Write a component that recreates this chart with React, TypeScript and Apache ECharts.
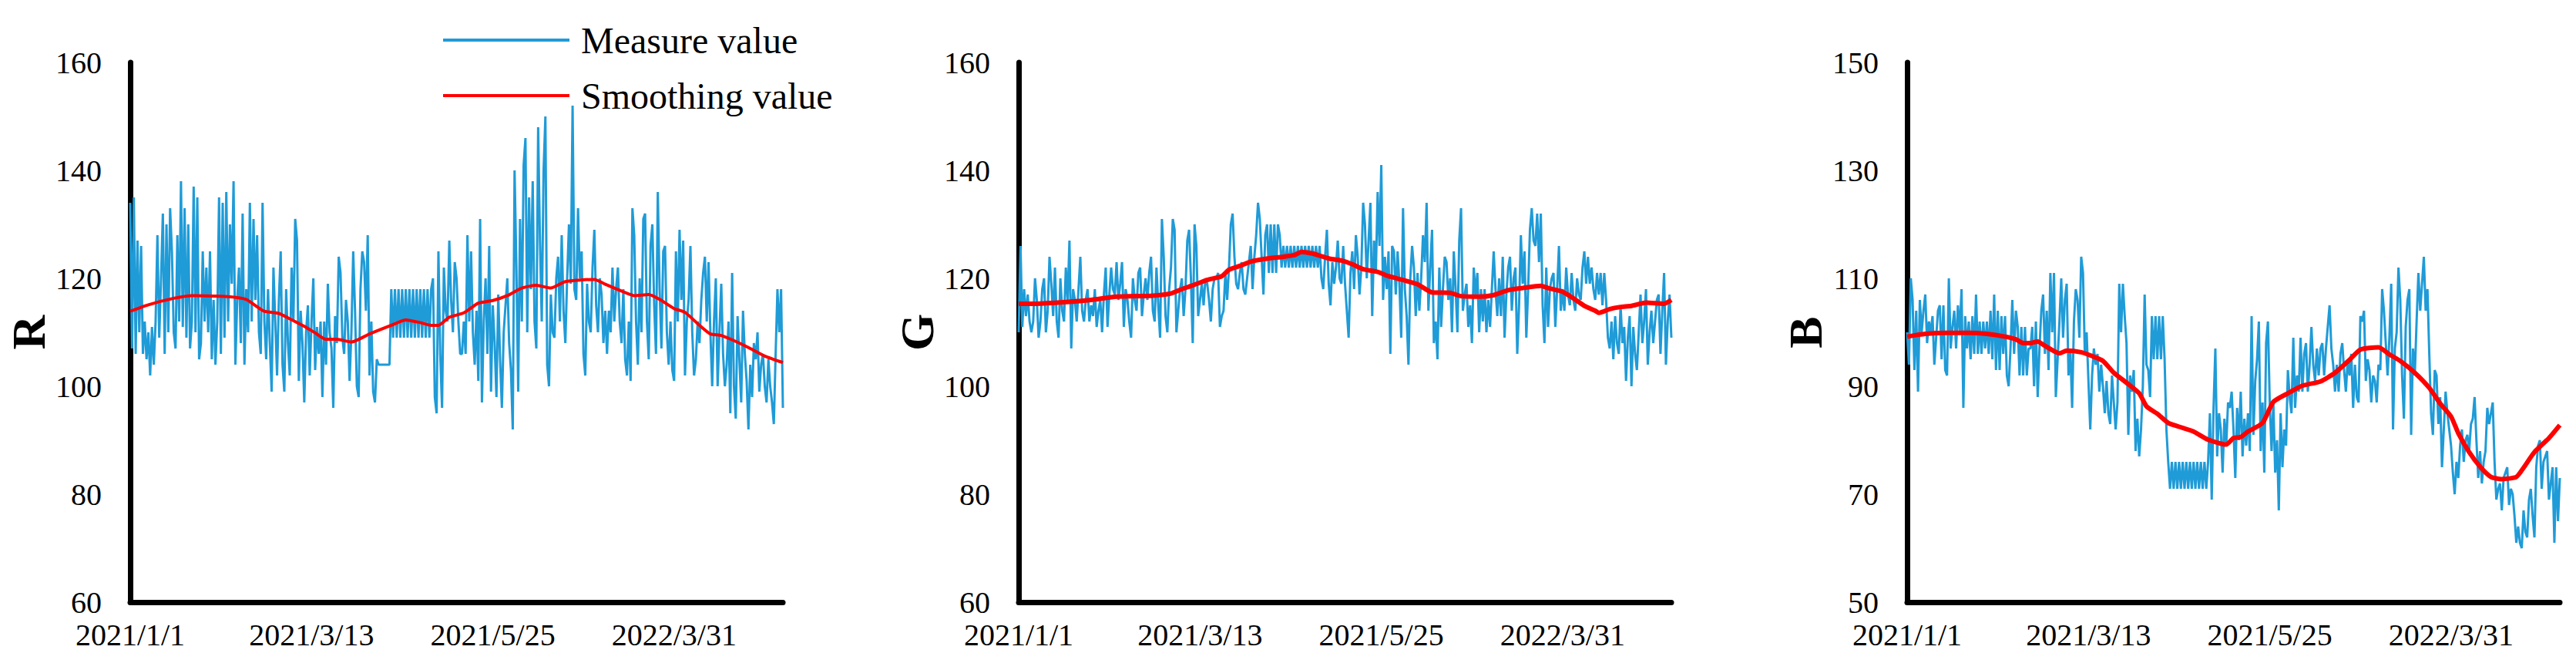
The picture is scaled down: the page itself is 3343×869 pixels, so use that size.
import React, { useEffect, useRef } from 'react';
import * as echarts from 'echarts';

// x positions: sample units 0..180, date labels every 50 units; measures sampled every 0.5 unit
const X_LABELS = ['2021/1/1', '2021/3/13', '2021/5/25', '2022/3/31'];
const X_STEP = 50;
const X_MAX = 180;

const SERIES_NAMES = ['Measure value', 'Smoothing value'];

const R_MEASURE = [
  134, 107, 135, 106, 127, 110, 126, 106, 112, 105,
  110, 102, 111, 104, 112, 128, 109, 120, 132, 106,
  130, 110, 133, 125, 110, 107, 128, 112, 138, 111,
  133, 109, 130, 107, 112, 137, 110, 135, 105, 108,
  125, 112, 122, 110, 125, 105, 116, 104, 112, 135,
  106, 134, 109, 136, 112, 130, 119, 138, 104, 116,
  122, 108, 132, 104, 118, 110, 134, 112, 131, 116,
  128, 110, 106, 134, 112, 105, 118, 108, 99, 122,
  112, 102, 116, 125, 104, 99, 118, 108, 102, 122,
  112, 131, 127, 101, 114, 108, 97, 110, 115, 102,
  112, 120, 103, 111, 106, 112, 98, 112, 104, 119,
  110, 107, 96, 113, 108, 124, 121, 109, 106, 116,
  112, 101, 110, 125, 114, 100, 98, 118, 125, 123,
  114, 128, 102, 112, 99, 97, 105, 104, 104, 104,
  104, 104, 104, 104,
  118, 109, 118, 109, 118, 109, 118, 109, 118, 109, 118, 109,
  118, 109, 118, 109, 118, 109, 118, 109, 118, 109, 118,
  120, 98, 95, 125, 106, 96, 122, 114, 112, 127, 116, 110, 123, 120, 112, 106,
  106, 112, 106, 128, 112, 125, 110,
  104, 114, 101, 131, 97, 112, 120, 106, 126, 99,
  115, 108, 98, 117, 105, 96, 110, 115, 120, 108,
  103, 92, 140, 122, 99, 131, 112, 141, 146, 110,
  135, 118, 138, 112, 107, 148, 127, 112, 140, 150,
  104, 100, 117, 110, 109, 120, 124, 112, 128, 114,
  108, 120, 130, 119, 152, 118, 116, 133, 120, 125,
  106, 102, 119, 112, 110, 122, 129, 115, 110, 120,
  117, 108, 114, 106, 114, 110, 122, 112, 118, 122,
  112, 108, 118, 105, 102, 112, 101, 133, 128, 112,
  104, 120, 110, 131, 132, 112, 105, 126, 130, 115,
  106, 136, 118, 107, 125, 126, 110, 104, 112, 103,
  101, 125, 112, 129, 116, 127, 102, 112, 116, 126,
  110, 102, 105, 112, 108, 116, 121, 124, 112, 123,
  110, 100, 112, 120, 100, 110, 119, 106, 100, 104,
  112, 95, 121, 100, 94, 113, 105, 97, 114, 106,
  101, 92, 104, 98, 108, 105, 110, 99, 104, 106,
  100, 97, 105, 100, 97, 93, 106, 118, 110, 118,
  96,
];

const R_SMOOTH = [
  [0, 113.9], [5, 115.1], [12, 116.3], [17, 116.8], [27, 116.6], [32, 116.1],
  [34, 115.2], [37, 113.9], [41, 113.5], [44, 112.5], [48, 111.1], [51, 109.9],
  [54, 108.7], [57, 108.7], [61, 108.2], [66, 109.7], [72, 111.3], [76, 112.3],
  [80, 111.8], [83, 111.3], [85, 111.3], [88, 112.8], [92, 113.6], [96, 115.4],
  [100, 115.9], [104, 116.8], [108, 118.2], [112, 118.7], [116, 118.2], [120, 119.4],
  [128, 119.8], [131, 118.9], [136, 117.5], [139, 116.8], [143, 117], [146, 116.1],
  [150, 114.4], [153, 113.7], [157, 111.3], [160, 109.7], [163, 109.4], [168, 108],
  [171, 107], [175, 105.6], [180, 104.4],
];

const G_MEASURE = [
  110, 126, 111, 118, 113, 117, 112, 110, 112, 120,
  116, 109, 112, 118, 120, 110, 114, 124, 119, 113,
  122, 112, 109, 120, 114, 112, 122, 116, 127, 107,
  118, 116, 112, 118, 124, 114, 112, 116, 118, 112,
  115, 113, 118, 111, 114, 116, 110, 117, 122, 111,
  117, 122, 118, 117, 123, 116, 119, 123, 111, 118,
  116, 112, 109, 120, 116, 114, 121, 122, 113, 117,
  120, 116, 121, 124, 114, 112, 122, 115, 109, 131,
  124, 113, 110, 118, 122, 131, 129, 110, 114, 118,
  120, 113, 118, 127, 129, 120, 108, 130, 126, 113,
  116, 119, 115, 120, 119, 116, 112, 118, 120, 120,
  121, 111, 113, 114, 121, 116, 122, 130, 132, 124,
  119, 118, 121, 123, 118, 117, 120, 123, 126, 118,
  124, 128, 134, 131, 124, 117, 128, 130, 121, 130,
  121, 130, 121, 130, 128,
  122, 126, 122, 126, 122, 126, 122, 126, 122, 126, 122,
  126, 122, 126, 122, 126, 122, 126, 122, 126, 122, 126,
  120, 118, 124, 129, 119, 115, 123, 119, 122, 127, 120, 119, 126, 119, 114, 109,
  121, 125, 118, 128, 124, 117, 122,
  134, 130, 120, 127, 134, 113, 127, 121, 136, 126,
  141, 116, 124, 118, 125, 106, 126, 125, 117, 125,
  119, 109, 133, 118, 113, 104, 120, 126, 122, 113,
  121, 114, 120, 128, 123, 134, 114, 122, 129, 108,
  112, 105, 122, 111, 118, 124, 123, 116, 120, 110,
  125, 118, 110, 127, 133, 114, 117, 119, 111, 115,
  108, 122, 117, 121, 110, 118, 112, 118, 110, 116,
  111, 118, 125, 118, 113, 120, 113, 124, 109, 117,
  122, 124, 114, 120, 122, 106, 115, 128, 119, 125,
  109, 118, 129, 133, 127, 126, 132, 123, 132, 115,
  108, 122, 111, 118, 120, 121, 111, 118, 126, 114,
  118, 114, 122, 117, 115, 121, 116, 114, 120, 117,
  116, 122, 125, 119, 124, 119, 122, 118, 116, 121,
  117, 121, 115, 121, 116, 109, 107, 112, 105, 113,
  108, 106, 115, 108, 111, 101, 109, 113, 100, 111,
  106, 103, 110, 117, 108, 112, 118, 104, 110, 114,
  108, 112, 116, 117, 106, 114, 121, 104, 112, 117,
  109,
];

const G_SMOOTH = [
  [0, 115.3], [5, 115.3], [13, 115.6], [20, 116], [27, 116.6], [37, 116.8],
  [42, 117.2], [45, 118], [48, 118.7], [52, 119.7], [56, 120.4], [58, 121.6],
  [61, 122.3], [64, 123.1], [68, 123.6], [73, 124], [76, 124.3], [78, 124.9],
  [81, 124.6], [83, 124.2], [86, 123.6], [89, 123.3], [92, 122.6], [95, 121.7],
  [99, 121.2], [102, 120.4], [106, 119.7], [110, 118.9], [114, 117.4], [119, 117.3],
  [122, 116.7], [127, 116.6], [131, 116.9], [135, 117.8], [139, 118.2], [144, 118.6],
  [146, 118.2], [150, 117.5], [153, 116.3], [156, 114.9], [159, 114], [160, 113.6],
  [163, 114.3], [166, 114.7], [169, 114.9], [173, 115.5], [178, 115.3], [180, 116],
];

const B_MEASURE = [
  100, 94, 110, 106, 93, 104, 89, 106, 100, 104,
  107, 98, 102, 100, 103, 94, 99, 104, 105, 95,
  105, 93, 92, 110, 97, 101, 104, 97, 105, 100,
  108, 86, 103, 97, 102, 95, 103, 96, 107, 96,
  102, 96, 102, 97, 102, 96, 104, 95, 107, 93,
  104, 93, 103, 96, 103, 92, 90, 97, 106, 96,
  104, 101, 92, 101, 92, 101, 92, 97, 97, 101,
  90, 102, 88, 97, 104, 107, 96, 104, 93, 111,
  100, 111, 88, 95, 102, 110, 99, 106, 109, 92,
  97, 86, 102, 108, 106, 99, 114, 111, 96, 100,
  91, 82, 92, 97, 94, 96, 89, 94, 90, 85,
  91, 85, 83, 92, 87, 82, 87, 109, 100, 109,
  103, 98, 81, 92, 89, 93, 78, 84, 77, 82,
  90, 107, 94, 93, 88, 103, 95, 103, 95, 103,
  95, 103, 95, 82,
  76, 71, 76, 71, 76, 71, 76, 71, 76, 71, 76, 71,
  76, 71, 76, 71, 76, 71, 76, 71, 76, 71, 76,
  85, 69, 86, 97, 77, 85, 82, 74, 84, 79, 87, 86, 89, 82, 73, 86,
  80, 89, 77, 84, 79, 85, 78,
  103, 81, 91, 95, 102, 78, 87, 74, 98, 102,
  87, 78, 87, 74, 80, 67, 85, 75, 82, 79,
  93, 88, 85, 99, 86, 92, 89, 99, 89, 96,
  98, 89, 94, 101, 94, 91, 97, 92, 97, 98,
  92, 97, 101, 105, 97, 94, 89, 94, 89, 96,
  98, 93, 89, 95, 92, 96, 86, 94, 88, 87,
  103, 102, 104, 91, 95, 93, 87, 92, 91, 87,
  94, 93, 108, 104, 98, 92, 99, 109, 82, 97,
  100, 112, 106, 92, 84, 101, 106, 108, 81, 97,
  92, 102, 111, 104, 109, 114, 104, 108, 96, 85,
  81, 93, 92, 83, 88, 75, 82, 89, 85, 82,
  79, 74, 70, 76, 73, 79, 82, 76, 80, 81,
  78, 83, 84, 88, 80, 73, 78, 72, 76, 78,
  86, 83, 85, 87, 76, 69, 71, 72, 67, 73,
  74, 75, 68, 71, 70, 66, 61, 64, 61, 60,
  67, 63, 62, 69, 71, 66, 62, 75, 79, 80,
  71, 76, 77, 78, 69, 72, 75, 61, 75, 65,
  73,
];

const B_SMOOTH = [
  [0, 99.2], [5, 99.7], [11, 99.9], [17, 99.9], [22, 99.7], [27, 99.2],
  [30, 98.7], [32, 98], [34, 98], [36, 98.3], [38, 97.5], [42, 96.1],
  [44, 96.6], [48, 96.3], [51, 95.6], [54, 94.7], [57, 92.5], [61, 90.4],
  [64, 88.7], [66, 86.3], [69, 84.9], [72, 83.2], [75, 82.5], [79, 81.6],
  [83, 80.1], [88, 79.2], [90, 80.4], [92, 80.6], [94, 81.6], [98, 83.2],
  [101, 87.1], [105, 88.7], [109, 90.1], [114, 90.9], [118, 92.5], [122, 94.9],
  [125, 96.8], [130, 97.2], [133, 95.9], [136, 94.7], [140, 92.5], [144, 89.7],
  [147, 86.8], [150, 84.4], [152, 81.3], [155, 77.8], [158, 75.1], [161, 73.2],
  [164, 72.8], [168, 73.2], [170, 74.9], [173, 77.8], [177, 80.4], [180, 82.8],
];

const FONT = '"Liberation Serif", "Times New Roman", serif';
const BLUE = '#1F9BD7';
const RED = '#FF0000';

export default function App() {
  const ref = useRef<HTMLDivElement>(null);

  useEffect(() => {
    if (!ref.current) return;
    const chart = echarts.init(ref.current, null, { renderer: 'svg' });

    const panels = [
      { name: 'R', measure: R_MEASURE, smooth: R_SMOOTH, min: 60, max: 160, left: 169, smoothWidth: 4 },
      { name: 'G', measure: G_MEASURE, smooth: G_SMOOTH, min: 60, max: 160, left: 1322, smoothWidth: 6 },
      { name: 'B', measure: B_MEASURE, smooth: B_SMOOTH, min: 50, max: 150, left: 2475, smoothWidth: 6 },
    ];

    const option: any = {
      animation: false,
      backgroundColor: '#ffffff',
      legend: {
        left: 570,
        top: 23,
        orient: 'vertical',
        icon: 'rect',
        itemWidth: 164,
        itemHeight: 4,
        itemGap: 24,
        data: SERIES_NAMES,
        textStyle: { fontFamily: FONT, fontSize: 48, color: '#000', padding: [0, 0, 0, 10] },
      },
      grid: panels.map((p) => ({ left: p.left, top: 81, width: 847, height: 700, containLabel: false })),
      xAxis: panels.map((p, k) => ({
        type: 'value',
        gridIndex: k,
        min: 0,
        max: X_MAX,
        interval: X_STEP,
        axisLine: { show: true, onZero: false, lineStyle: { color: '#000', width: 7 } },
        axisTick: { show: false },
        splitLine: { show: false },
        axisLabel: {
          fontFamily: FONT,
          fontSize: 40,
          color: '#000',
          margin: 22,
          showMaxLabel: false,
          formatter: (v: number) => {
            const r = Math.round(v);
            const idx = r / X_STEP;
            return r % X_STEP === 0 && idx < X_LABELS.length ? X_LABELS[idx] : '';
          },
        },
      })),
      yAxis: panels.map((p, k) => ({
        type: 'value',
        gridIndex: k,
        min: p.min,
        max: p.max,
        interval: 20,
        name: p.name,
        nameLocation: 'middle',
        nameGap: 90,
        nameTextStyle: { fontFamily: FONT, fontSize: 62, fontWeight: 'bold', color: '#000' },
        axisLine: { show: true, onZero: false, lineStyle: { color: '#000', width: 7 } },
        axisTick: { show: false },
        splitLine: { show: false },
        axisLabel: { fontFamily: FONT, fontSize: 40, color: '#000', margin: 37 },
      })),
      series: panels.flatMap((p, k) => [
        {
          name: SERIES_NAMES[0],
          type: 'line',
          xAxisIndex: k,
          yAxisIndex: k,
          symbol: 'none',
          data: p.measure.map((v, j) => [(j * X_MAX) / (p.measure.length - 1), v]),
          lineStyle: { color: BLUE, width: 3 },
          itemStyle: { color: BLUE },
          z: 2,
        },
        {
          name: SERIES_NAMES[1],
          type: 'line',
          xAxisIndex: k,
          yAxisIndex: k,
          symbol: 'none',
          smooth: 0.2,
          data: p.smooth,
          lineStyle: { color: RED, width: p.smoothWidth },
          itemStyle: { color: RED },
          z: 3,
        },
      ]),
    };

    chart.setOption(option);
    return () => chart.dispose();
  }, []);

  return (
    <div
      ref={ref}
      style={{ position: 'fixed', left: 0, top: 0, width: 3343, height: 869, background: '#fff' }}
    />
  );
}
